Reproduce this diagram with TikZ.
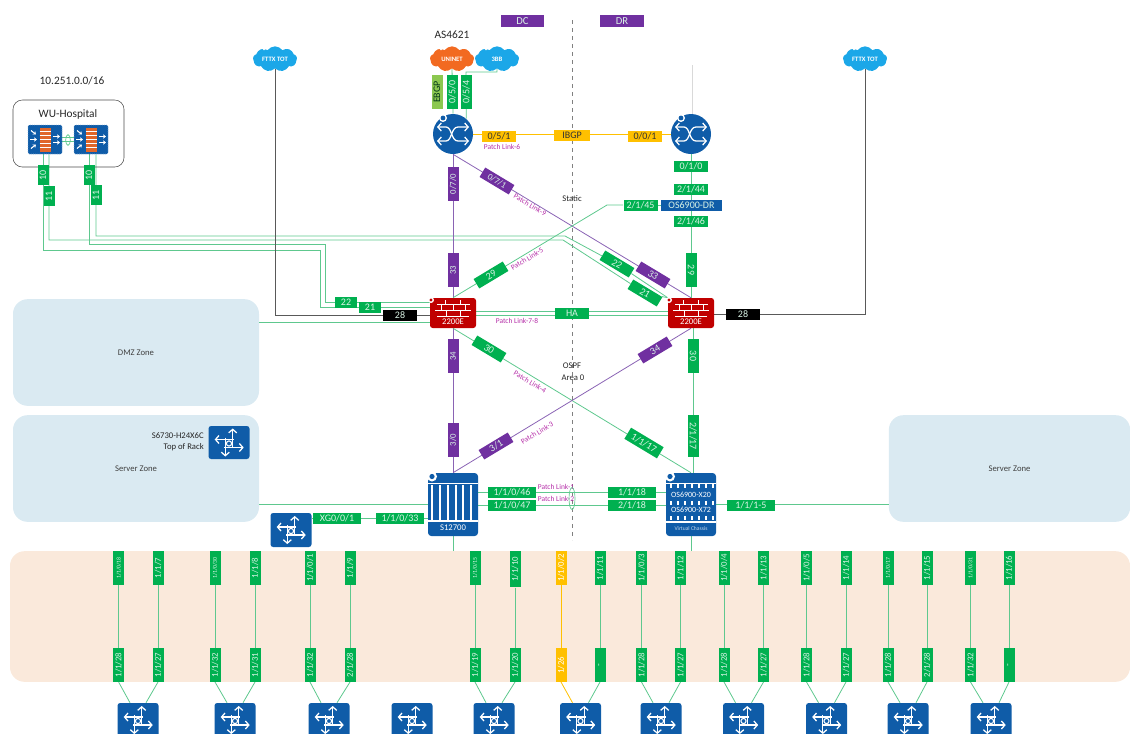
\documentclass[tikz,border=0pt]{standalone}
\usepackage{fontspec}
\setmainfont{Carlito}
\usepackage{tikz}
\usetikzlibrary{
  arrows.meta,
  backgrounds,
  shapes.geometric,
  shapes.symbols
}
\definecolor{portgreen}{HTML}{00B050}
\definecolor{linkgreen}{HTML}{5EC88E}
\definecolor{portpurple}{HTML}{7030A0}
\definecolor{linkpurple}{HTML}{8A63B4}
\definecolor{portorange}{HTML}{FFC000}
\definecolor{devblue}{HTML}{0F5CA8}
\definecolor{devred}{HTML}{C00000}
\definecolor{zoneblue}{HTML}{DAEAF2}
\definecolor{zonepeach}{HTML}{FAE9DB}
\definecolor{patchtext}{HTML}{B52FA8}
\definecolor{uninet}{HTML}{F26A21}
\definecolor{skyblue}{HTML}{1BA7E8}
\definecolor{brick}{HTML}{E0662A}
\definecolor{ebgp}{HTML}{8CC850}
\newcommand\portfont{\fontsize{7.5}{8}\selectfont}
\newcommand\thinport{\fontsize{6.6}{7}\selectfont}
\newcommand\tl[1]{{\fontsize{4.4}{5}\selectfont #1}}
\tikzset{
  portbox/.style={fill=portgreen,text=white!85!portgreen,font=\portfont,inner sep=0pt,
    minimum width=25.5pt,minimum height=8.25pt},
  purplebox/.style={portbox,fill=portpurple},
  orangebox/.style={portbox,fill=portorange,text=black!80},
  blackbox/.style={portbox,fill=black},
  longbox/.style={minimum width=36pt},
  vert/.style={rotate=90},
  vertr/.style={rotate=-90},
  diagdn/.style={rotate=-31},
  diagup/.style={rotate=31},
  gcolbox/.style={portbox,font=\thinport,rotate=90,minimum width=25pt},
  ycolbox/.style={portbox,fill=portorange,text=white,font=\thinport,rotate=90,minimum width=25pt},
  glink/.style={draw=linkgreen,line width=.6pt},
  plink/.style={draw=linkpurple,line width=.6pt},
  ylink/.style={draw=portorange,line width=.6pt},
  blink/.style={draw=black!65,line width=.6pt},
  gcollink/.style={glink},
  ycollink/.style={ylink},
  zonebox/.style={fill=zoneblue,rounded corners=11pt,font=\fontsize{6.5}{7}\selectfont,text=black!75,inner sep=0pt},
  plain/.style={font=\fontsize{8.5}{9}\selectfont,text=black!85,inner sep=0pt},
  small/.style={font=\fontsize{6.5}{7}\selectfont,text=black!85,inner sep=0pt},
  patch/.style={font=\fontsize{5.6}{6}\selectfont,text=patchtext,inner sep=0pt},
  cloudbox/.style={cloud,cloud puffs=9,cloud puff arc=110,aspect=1.7,inner sep=0pt,
    minimum width=33pt,minimum height=19pt,text=white,font=\fontsize{5}{6}\selectfont\bfseries},
  swbox/.style={fill=devblue,rounded corners=2pt,minimum width=30.75pt,minimum height=25.5pt,inner sep=0pt},
  rtrbox/.style={circle,fill=devblue,minimum size=30pt,inner sep=0pt},
  fwbox/.style={fill=devred,rounded corners=2pt,minimum width=34.5pt,minimum height=22.5pt,inner sep=0pt},
  hfwbox/.style={fill=devblue,draw=devblue!50,densely dotted,rounded corners=1pt,minimum width=25.5pt,minimum height=21.75pt,inner sep=0pt},
  chassis/.style={fill=devblue,rounded corners=2.5pt,minimum width=37.5pt,minimum height=47.25pt,inner sep=0pt},
  devtext/.style={text=white,font=\fontsize{6.5}{7}\selectfont,inner sep=0pt},
  wline/.style={draw=white,line width=.6pt},
  warrow/.style={draw=white,line width=.95pt,-{Straight Barb[length=2.6pt,width=6pt]}},
  harrow/.style={draw=white,line width=.8pt,-{Stealth[length=2.2pt,width=3.2pt]}},
  pics/swarrows/.style={code={
    \draw[warrow] (-3.7,-5) -- (-3.7,14);
    \draw[warrow] (3.7,5) -- (3.7,-14);
    \draw[warrow] (5,-3) -- (-14.3,-3);
    \draw[warrow] (-5,5) -- (14.7,5);
    \fill[devblue] (0,1) circle[radius=3];
    \draw[white,line width=.8pt] (0,1) circle[radius=2.6];
  }},
  pics/rtrarrows/.style={code={
    \draw[warrow,{Straight Barb[length=2.6pt,width=6pt]}-{Straight Barb[length=2.6pt,width=6pt]}]
      (-16,-7) -- (-7,-7) .. controls (-1,-7) and (-2,7) .. (5,7) -- (16,7);
    \draw[warrow,{Straight Barb[length=2.6pt,width=6pt]}-{Straight Barb[length=2.6pt,width=6pt]}]
      (-16,7) -- (-7,7) .. controls (-1,7) and (-2,-7) .. (5,-7) -- (16,-7);
    \fill[white] (-10,-16) circle[radius=4];
    \fill[devblue] (-10,-16) circle[radius=2.4];
  }},
  pics/fwbricks/.style={code={
    \draw[wline] (-16,-9) -- (17,-9) (-18,-3) -- (18,-3) (-16,3) -- (16,3);
    \draw[wline] (-8,-13) -- (-8,-9) (7,-13) -- (7,-9) (-12,-9) -- (-12,-3) (0,-9) -- (0,-3) (12,-9) -- (12,-3)
      (-7,-3) -- (-7,3) (7,-3) -- (7,3);
    \fill[white] (-22,-13) circle[radius=3];
    \fill[devred] (-22,-13) circle[radius=1.6];
  }},
  pics/hfwicon/.style={code={
    \fill[brick] (-5.5,-12) rectangle (5.5,12);
    \foreach \y in {-8,-4,0,4,8} \draw[white,line width=.3pt] (-5.5,\y) -- (5.5,\y);
    \draw[harrow] (-14,-9) -- (-9,-5);
    \draw[harrow] (-15,0) -- (-8,0);
    \draw[harrow] (-14,9) -- (-9,5);
    \draw[harrow] (8,-3) -- (15,-3);
    \draw[harrow] (8,3) -- (15,3);
  }},
  pics/stripes/.style={code={
    \fill[white] (-25,-22) rectangle (25,-20.5);
    \fill[white] (-25,15) rectangle (25,17.5);
    \foreach \x in {-20.7,-13,-5.3,2.7,10.3,18} \fill[white] (\x-1,-20) rectangle (\x+1,15);
    \fill[white] (-21,-28) circle[radius=5];
    \fill[devblue] (-21,-28) circle[radius=2.6];
  }},
  pics/dotrows/.style={code={
    \fill[white] (-25,16.5) rectangle (25,18.5);
    \fill[white] (-25,-22) rectangle (25,-20.5);
    \foreach \y in {-18,-1,14} \foreach \x in {-20,-13,-6,1,8,15,22} \fill[white] (\x-1,\y-2.5) rectangle (\x+1,\y+1.5);
    \fill[white] (-21,-28) circle[radius=5];
    \fill[devblue] (-21,-28) circle[radius=2.6];
  }}
}

\begin{document}
\begin{tikzpicture}[x=.75pt,y=-.75pt]
\useasboundingbox (0,0) rectangle (1130,733);

\begin{scope}[on background layer]
\node[zonebox,minimum width=184.5pt,minimum height=80pt] (dmz) at (136,352.5) {DMZ Zone};
\node[zonebox,minimum width=184.5pt,minimum height=80pt] (srvl) at (136,468.5) {Server Zone};
\node[zonebox,minimum width=181pt,minimum height=80pt] (srvr) at (1009.5,468.5) {Server Zone};
\node[zonebox,fill=zonepeach,minimum width=840pt,minimum height=98pt] (band) at (570,616.5) {};
\end{scope}

\node[purplebox,font=\fontsize{8}{9}\selectfont,minimum width=32pt,minimum height=9pt] (dc) at (522.5,21) {DC};
\node[purplebox,font=\fontsize{8}{9}\selectfont,minimum width=33pt,minimum height=9pt] (dr) at (622,21) {DR};
\node[plain] (as) at (452,35) {AS4621};
\node[plain] (net) at (72,81) {10.251.0.0/16};

\node[cloudbox,fill=skyblue] (fttxl) at (275,59) {\makebox[0pt]{FTTX TOT}};
\node[cloudbox,fill=skyblue] (fttxr) at (865,59) {\makebox[0pt]{FTTX TOT}};
\node[cloudbox,fill=uninet] (uninet) at (452,59) {\makebox[0pt]{UNINET}};
\node[cloudbox,fill=skyblue] (bbb) at (497,59) {\makebox[0pt]{3BB}};
\foreach \c in {fttxl,fttxr,uninet,bbb}
  \fill[white] ([shift={(-11,-10)}]\c.center) circle[radius=1.3];

\node[draw=black!70,rounded corners=7pt,minimum width=83.25pt,minimum height=50.25pt,inner sep=0pt] (hosp) at (68.5,133.5) {};
\node[plain] (hosptxt) at (68,114) {WU-Hospital};
\node[hfwbox] (hfwa) at (45,139.5) {};
\node[hfwbox] (hfwb) at (91,139.5) {};
\pic at (hfwa) {hfwicon};
\pic at (hfwb) {hfwicon};
\node[draw=linkgreen,ellipse,minimum width=3.5pt,minimum height=8pt,inner sep=0pt,line width=.5pt] (hha) at (68,140) {};
\node[portbox,vert,minimum width=15pt] (lab10a) at (43,175) {10};
\node[portbox,vert,minimum width=15pt] (lab11a) at (49,196) {11};
\node[portbox,vert,minimum width=15pt] (lab10b) at (89,175) {10};
\node[portbox,vert,minimum width=15pt] (lab11b) at (96,195) {11};

\node[rtrbox] (rtrl) at (453,134) {};
\node[rtrbox] (rtrr) at (691,134) {};
\pic at (rtrl) {rtrarrows};
\pic at (rtrr) {rtrarrows};
\node[portbox,vert,fill=ebgp,text=black!70!portgreen,minimum width=25pt] (labebgp) at (437,92) {EBGP};
\node[portbox,vert] (lab050) at (452,92) {0/5/0};
\node[portbox,vert] (lab054) at (466,92) {0/5/4};
\node[orangebox] (lab051) at (499,136) {0/5/1};
\node[orangebox,minimum width=27pt] (labibgp) at (572,135) {IBGP};
\node[orangebox] (lab001) at (645,136) {0/0/1};
\node[patch] (patch6) at (502,147) {Patch Link-6};

\node[purplebox,vert,font=\thinport] (lab070) at (453,184) {0/7/0};
\node[purplebox,diagdn,font=\thinport] (lab071) at (497,181) {0/7/1};
\node[patch,diagdn] (patch9) at (530,205) {Patch Link-9};
\node[small] (static) at (572,199) {Static};
\node[portbox] (lab010) at (691,166) {0/1/0};
\node[portbox] (lab2144) at (691,189) {2/1/44};
\node[portbox,fill=devblue,minimum width=45.75pt] (lab6900) at (691.5,205) {OS6900-DR};
\node[portbox] (lab2145) at (640.5,205) {2/1/45};
\node[portbox] (lab2146) at (691,221) {2/1/46};

\node[purplebox,vert,font=\thinport] (lab33a) at (453,270) {33};
\node[portbox,diagup] (lab29a) at (491,275) {29};
\node[patch,diagup] (patch5) at (527,259) {Patch Link-5};
\node[portbox,diagdn] (lab22b) at (617,264) {22};
\node[portbox,diagdn] (lab21b) at (645,293) {21};
\node[purplebox,diagdn] (lab33b) at (653,275) {33};
\node[portbox,vertr] (lab29b) at (691,270) {29};

\node[fwbox] (fwl) at (453,313) {};
\node[fwbox] (fwr) at (691,313) {};
\pic at (fwl) {fwbricks};
\pic at (fwr) {fwbricks};
\node[devtext] (fwltxt) at (453,322) {2200E};
\node[devtext] (fwrtxt) at (691,322) {2200E};
\node[portbox,minimum width=16.5pt] (lab22a) at (346,302) {22};
\node[portbox,minimum width=16.5pt] (lab21a) at (370,307) {21};
\node[blackbox] (lab28a) at (400,315) {28};
\node[blackbox] (lab28b) at (743,314) {28};
\node[portbox] (labha) at (572,313) {HA};
\node[patch] (patch78) at (517,321) {Patch Link-7-8};

\node[purplebox,vert,font=\thinport] (lab34a) at (453,356) {34};
\node[portbox,diagdn] (lab30a) at (489,349) {30};
\node[purplebox,diagup] (lab34b) at (655,350) {34};
\node[portbox,vertr] (lab30b) at (693,356) {30};
\node[small] (ospf) at (572,366) {OSPF};
\node[small] (area) at (573,378) {Area 0};
\node[patch,diagdn] (patch4) at (530,382) {Patch Link-4};
\node[patch,diagup] (patch3) at (537,433) {Patch Link-3};
\node[purplebox,vert,font=\thinport] (lab30c) at (453,440) {3/0};
\node[purplebox,diagup] (lab31) at (496,446) {3/1};
\node[portbox,diagdn,minimum width=28.5pt,minimum height=9.75pt] (lab117) at (644,443) {1/1/17};
\node[portbox,vertr,minimum width=31.5pt] (lab217) at (693,436) {2/1/17};

\node[chassis] (s12700) at (453,504.5) {};
\pic at (s12700) {stripes};
\node[devtext] (s12700txt) at (453,528) {S12700};
\node[chassis] (os69) at (691,504.5) {};
\pic at (os69) {dotrows};
\node[devtext,font=\fontsize{6}{7}\selectfont] (x20) at (691,495) {OS6900-X20};
\node[devtext,font=\fontsize{6}{7}\selectfont] (x72) at (691,510) {OS6900-X72};
\node[devtext,font=\fontsize{4.2}{5}\selectfont,text=white!75!devblue] (vc) at (691,529) {Virtual Chassis};
\node[portbox,longbox] (lab1046) at (512,492) {1/1/0/46};
\node[portbox,longbox] (lab1047) at (512,505) {1/1/0/47};
\node[portbox,longbox] (lab118) at (632,492) {1/1/18};
\node[portbox,longbox] (lab218) at (632,505) {2/1/18};
\node[portbox,longbox] (lab115) at (751,505) {1/1/1-5};
\node[patch] (patch1) at (556,487) {Patch Link-1};
\node[patch] (patch2) at (556,499) {Patch Link-2};
\node[draw=linkgreen,ellipse,minimum width=4.5pt,minimum height=16.5pt,inner sep=0pt,line width=.5pt] (ring) at (572,498.5) {};

\node[swbox,minimum height=24.75pt] (swtor) at (229,442.5) {};
\pic at (swtor) {swarrows};
\node[small,anchor=east] (tortxa) at (204,436) {S6730-H24X6C};
\node[small,anchor=east] (tortxb) at (204,447) {Top of Rack};
\node[swbox] (swacc) at (291,530) {};
\pic at (swacc) {swarrows};
\node[portbox,longbox] (labxg) at (337,518) {XG0/0/1};
\node[portbox,longbox] (lab033) at (400,518) {1/1/0/33};

\coordinate (busa) at (320,250);
\coordinate (busb) at (325,244);
\coordinate (busc) at (565,236);
\coordinate (busd) at (563,240);
\coordinate (dmzy) at (259,322);
\coordinate (bus3bb) at (466,72);
\coordinate (bend45) at (607,205);
\coordinate (dashtop) at (572,20);
\coordinate (dashbot) at (572,540);
\coordinate (drtop) at (692,65);

\foreach \i/\sx/\xa/\ta/\ba/\c/\xb/\tb/\bb in {
  1/138/118.6/{\tl{1/1/0/18}}/{1/1/28}/gcol/158/{1/1/7}/{1/1/27},
  2/235/215/{\tl{1/1/0/30}}/{1/1/32}/gcol/255/{1/1/8}/{1/1/31},
  3/329/310/{1/1/0/1}/{1/1/32}/gcol/350/{1/1/9}/{2/1/28},
  5/494/475/{\tl{1/1/0/15}}/{1/1/19}/gcol/515/{\makebox[27pt]{1/1/10}}/{1/1/20},
  6/580.5/561/{1/1/0/2}/{1/26}/ycol/600/{1/1/11}/{-},
  7/661/641.5/{1/1/0/3}/{1/1/28}/gcol/680.5/{1/1/12}/{1/1/27},
  8/743.5/724/{1/1/0/4}/{1/1/28}/gcol/763.5/{1/1/13}/{1/1/27},
  9/826.5/806.5/{1/1/0/5}/{1/1/28}/gcol/846/{1/1/14}/{1/1/27},
  10/908/888/{\tl{1/1/0/17}}/{1/1/28}/gcol/927/{1/1/15}/{2/1/28},
  11/991/970.5/{\tl{1/1/0/31}}/{1/1/32}/gcol/1009/{1/1/16}/{-}
}{
  \node[swbox] (sw\i) at (\sx,720) {};
  \pic at (sw\i) {swarrows};
  \node[\c box,anchor=east] (top\i a) at (\xa,551) {\ta};
  \node[\c box,anchor=west] (bot\i a) at (\xa,682) {\ba};
  \node[gcolbox,anchor=east] (top\i b) at (\xb,551) {\tb};
  \node[gcolbox,anchor=west] (bot\i b) at (\xb,682) {\bb};
  \begin{scope}[on background layer]
  \draw[\c link] (top\i a) -- (bot\i a);
  \draw[\c link] (bot\i a.west) -- ([xshift=-6pt]sw\i.north);
  \draw[glink] (top\i b) -- (bot\i b);
  \draw[glink] (bot\i b.west) -- ([xshift=6pt]sw\i.north);
  \end{scope}
}
\node[swbox] (sw4) at (412,720) {};
\pic at (sw4) {swarrows};

\begin{scope}[on background layer]
\draw[gray,dashed,line width=.6pt] (dashtop) -- (dashbot);
\draw[black!15,line width=.4pt] (drtop) -- (rtrr.north -| drtop);

\draw[glink] ([yshift=1.6pt]hfwa.east) -- ([yshift=1.6pt]hfwb.west);
\draw[glink] ([yshift=-1.6pt]hfwa.east) -- ([yshift=-1.6pt]hfwb.west);
\draw[glink] (hfwa.south -| lab10a) -- (busa -| lab10a) -- (busa) -- (busa |- lab21a) -- (lab21a) -- (lab21a -| fwl.west);
\draw[glink] (hfwb.south -| lab10b) -- (busb -| lab10b) -- (busb) -- (busb |- lab22a) -- (lab22a) -- (lab22a -| fwl.west);
\draw[glink] (hfwa.south -| lab11a) -- (busd -| lab11a) -- (busd) -- (lab21b) -- (fwr.north west);
\draw[glink] (hfwb.south -| lab11b) -- (busc -| lab11b) -- (busc) -- (lab22b) -- (fwr.north west);

\draw[blink] (fttxl.south) -- (fttxl.south |- lab28a) -- (lab28a) -- (lab28a -| fwl.west);
\draw[blink] (fttxr.south) -- (fttxr.south |- lab28b) -- (lab28b) -- (lab28b -| fwr.east);
\draw[glink] (dmzy) -- (dmzy -| fwl.west);

\draw[glink] (uninet.south) -- (rtrl.north);
\draw[glink] (bbb.south) |- (bus3bb) -- (rtrl.49);
\draw[ylink] (rtrl) -- (rtrr);
\draw[plink] (rtrl) -- (fwl);
\draw[plink] (rtrl.south) -- (fwr.north);
\draw[glink] (rtrr) -- (fwr);
\draw[glink] (lab2145) -- (lab6900);
\draw[glink] (lab2145) -- (bend45) -- (fwl.north);

\draw[glink] ([yshift=1.5pt]fwl.east) -- ([yshift=1.5pt]fwr.west);
\draw[glink] ([yshift=-2pt]fwl.east) -- ([yshift=-2pt]fwr.west);

\draw[plink] (fwl) -- (s12700);
\draw[glink] (fwl.south) -- (os69.north);
\draw[plink] (fwr.south) -- (s12700.north);
\draw[glink] (fwr.south -| lab30b) -- (os69.north -| lab30b);

\draw[glink] (lab1046 -| s12700.east) -- (lab1046 -| os69.west);
\draw[glink] (lab1047 -| s12700.east) -- (lab1047 -| os69.west);
\draw[glink,line width=.8pt] (s12700.west) -- (s12700.west -| srvl.east);
\draw[glink] (os69.east) -- (os69.east -| srvr.west);
\draw[glink] (labxg -| swacc.east) -- (labxg -| s12700.west);
\draw[glink] (s12700.south) -- (s12700.south |- band.north);
\draw[glink] (os69.south) -- (os69.south |- band.north);
\end{scope}
\end{tikzpicture}
\end{document}
